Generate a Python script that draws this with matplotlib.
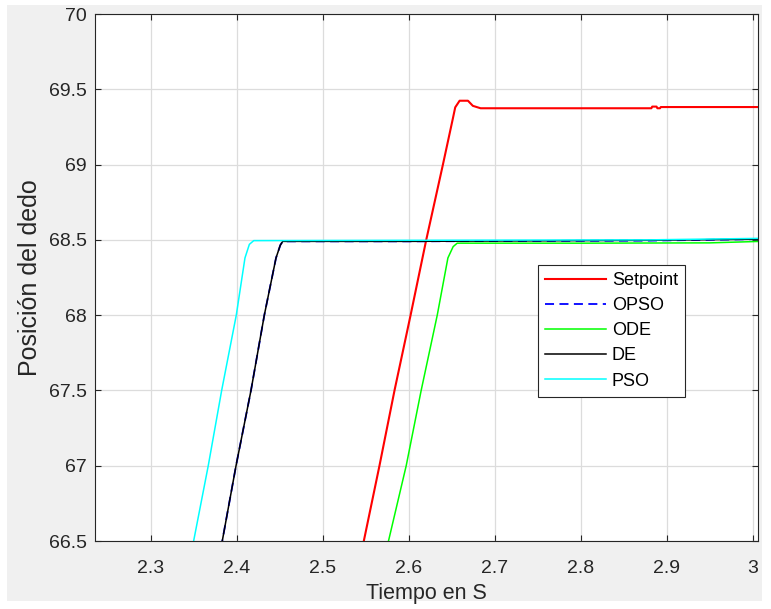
import matplotlib
matplotlib.use("Agg")
import matplotlib.pyplot as plt
from matplotlib.patches import Rectangle

# values
t_set = [2.547, 2.5476, 2.5658, 2.5833, 2.602, 2.6202, 2.6396, 2.6512, 2.6539, 2.659,
         2.6687, 2.6744, 2.6834, 2.882, 2.883, 2.888, 2.889, 2.892, 2.893, 3.01]
y_set = [66.45, 66.5, 67.0, 67.5, 68.0, 68.5, 69.0, 69.307, 69.38, 69.424,
         69.424, 69.39, 69.374, 69.374, 69.385, 69.385, 69.374, 69.374, 69.382, 69.382]

t_opso = [2.382, 2.383, 2.399, 2.4164, 2.4319, 2.4455, 2.4505, 2.4533, 2.6, 2.88, 3.01]
y_opso = [66.45, 66.5, 67.0, 67.5, 68.0, 68.38, 68.465, 68.49, 68.49, 68.495, 68.505]

t_ode = [2.5758, 2.5763, 2.5969, 2.6143, 2.633, 2.6454, 2.6515, 2.6562, 2.8, 2.95, 3.01]
y_ode = [66.45, 66.5, 67.0, 67.5, 68.0, 68.38, 68.455, 68.478, 68.478, 68.48, 68.49]

t_de = [2.382, 2.383, 2.399, 2.4164, 2.4319, 2.4455, 2.4505, 2.4533, 2.6, 2.88, 3.01]
y_de = [66.45, 66.5, 67.0, 67.5, 68.0, 68.38, 68.465, 68.49, 68.49, 68.497, 68.505]

t_pso = [2.349, 2.3497, 2.3667, 2.3823, 2.3993, 2.4094, 2.4145, 2.4196, 2.6, 2.88, 3.01]
y_pso = [66.45, 66.5, 67.0, 67.5, 68.0, 68.38, 68.47, 68.495, 68.497, 68.5, 68.51]

xticks = [2.3, 2.4, 2.5, 2.6, 2.7, 2.8, 2.9, 3.0]
xlabels = ["2.3", "2.4", "2.5", "2.6", "2.7", "2.8", "2.9", "3"]
yticks = [66.5, 67, 67.5, 68, 68.5, 69, 69.5, 70]
ylabels = ["66.5", "67", "67.5", "68", "68.5", "69", "69.5", "70"]

plt.rcParams['font.family'] = ['Liberation Sans', 'DejaVu Sans']
dark = '#262626'

fig = plt.figure(figsize=(7.71, 6.09), dpi=100, facecolor='white')
# grey figure panel with a thin white margin, as in the screenshot
fig.add_artist(Rectangle((7 / 771, 8 / 609), 755 / 771, 596 / 609,
                         transform=fig.transFigure, facecolor='#f0f0f0',
                         edgecolor='none', zorder=-10))
ax = fig.add_axes([95 / 771, 1 - 541 / 609, (758 - 95) / 771, (541 - 14) / 609])
ax.set_facecolor('white')

ax.plot(t_set, y_set, color='#ff0000', lw=1.5, label='Setpoint')
ax.plot(t_opso, y_opso, color='#0000ff', lw=1.3, ls=(0, (5, 3)), label='OPSO')
ax.plot(t_ode, y_ode, color='#00ff00', lw=1.1, label='ODE')
ax.plot(t_de, y_de, color='black', lw=1.1, label='DE')
ax.plot(t_pso, y_pso, color='#00ffff', lw=1.1, label='PSO')

ax.set_xlim(2.235, 3.006)
ax.set_ylim(66.5, 70)
ax.set_xticks(xticks)
ax.set_xticklabels(xlabels)
ax.set_yticks(yticks)
ax.set_yticklabels(ylabels)
ax.tick_params(direction='in', top=True, right=True, length=4, width=0.8,
               colors=dark, labelsize=14)
ax.tick_params(axis='x', pad=14)
ax.tick_params(axis='y', pad=6)
ax.grid(True, color='#dcdcdc', lw=0.9)
ax.set_axisbelow(True)
for s in ax.spines.values():
    s.set_color(dark)
    s.set_linewidth(0.8)

ax.set_xlabel('Tiempo en S', fontsize=15.5, color=dark, labelpad=4)
ax.set_ylabel('Posición del dedo', fontsize=18, color=dark, labelpad=5)

leg = ax.legend(loc='upper left', bbox_to_anchor=(0.668, 0.524), fontsize=13,
                frameon=True, fancybox=False, edgecolor=dark, framealpha=1,
                handlelength=3.4, labelspacing=0.45, borderpad=0.4,
                handletextpad=0.3, borderaxespad=0)
leg.get_frame().set_linewidth(0.8)

fig.savefig('out.png', dpi=100, facecolor=fig.get_facecolor())
